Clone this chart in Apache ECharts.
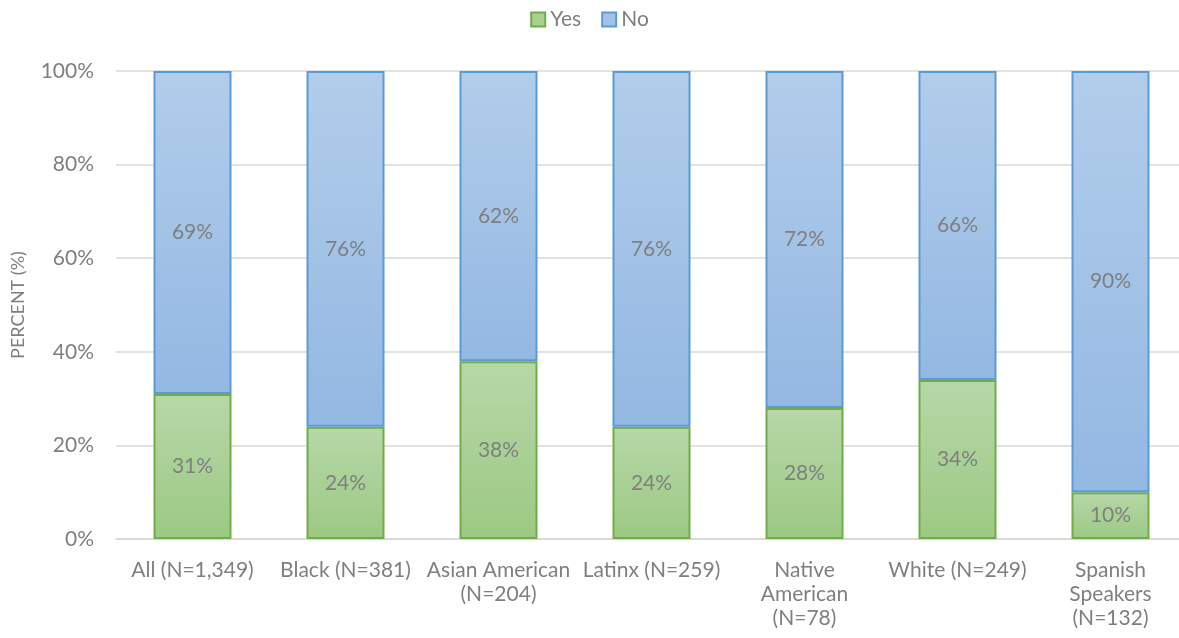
<!DOCTYPE html>
<html>
<head>
<meta charset="utf-8">
<script src="https://cdn.jsdelivr.net/npm/echarts@6/dist/echarts.min.js"></script>
<style>
html,body{margin:0;padding:0;background:#fff;}
#chart{width:1179px;height:638px;}
</style>
</head>
<body>
<div id="chart"></div>
<script>
const categories = [
  'All (N=1,349)',
  'Black (N=381)',
  'Asian American\n(N=204)',
  'Latinx (N=259)',
  'Native\nAmerican\n(N=78)',
  'White (N=249)',
  'Spanish\nSpeakers\n(N=132)'
];
const yesValues = [31, 24, 38, 24, 28, 34, 10];
const noValues = [69, 76, 62, 76, 72, 66, 90];
const yTicks = [0, 20, 40, 60, 80, 100];

const FONT = 'Lato';
const TEXT = '#7f7f7f';

function grad(top, bottom) {
  return new echarts.graphic.LinearGradient(0, 0, 0, 1, [
    { offset: 0, color: top },
    { offset: 1, color: bottom }
  ]);
}

const labelStyle = {
  show: true,
  position: 'inside',
  formatter: p => p.value + '%',
  color: TEXT,
  fontFamily: FONT,
  fontSize: 21
};

const chart = echarts.init(document.getElementById('chart'));
chart.setOption({
  animation: false,
  textStyle: { fontFamily: FONT },
  legend: {
    top: 4,
    left: 'center',
    itemWidth: 14,
    itemHeight: 14,
    itemGap: 20,
    textStyle: { color: TEXT, fontSize: 21, fontFamily: FONT },
    data: [
      { name: 'Yes', icon: 'rect', itemStyle: { color: '#a9d08e', borderColor: '#70ad47', borderWidth: 2 } },
      { name: 'No', icon: 'rect', itemStyle: { color: '#a4c2e8', borderColor: '#5b9bd5', borderWidth: 2 } }
    ]
  },
  grid: { left: 116, top: 71, width: 1071, height: 468, containLabel: false, outerBoundsMode: 'none' },
  xAxis: {
    type: 'category',
    data: categories,
    axisLine: { lineStyle: { color: '#d9d9d9', width: 1.5 } },
    axisTick: { show: false },
    axisLabel: {
      color: TEXT,
      fontFamily: FONT,
      fontSize: 21,
      lineHeight: 24,
      margin: 19,
      interval: 0
    }
  },
  yAxis: {
    type: 'value',
    min: 0,
    max: 100,
    interval: 20,
    name: 'PERCENT (%)',
    nameLocation: 'middle',
    nameGap: 89,
    nameRotate: 90,
    nameTextStyle: { color: TEXT, fontFamily: FONT, fontSize: 18 },
    axisLine: { show: false },
    axisTick: { show: false },
    splitLine: { lineStyle: { color: '#d9d9d9', width: 1.5 } },
    axisLabel: {
      color: TEXT,
      fontFamily: FONT,
      fontSize: 21,
      margin: 22,
      formatter: v => (yTicks.includes(v) ? v + '%' : '')
    }
  },
  series: [
    {
      name: 'Yes',
      type: 'bar',
      stack: 'total',
      barWidth: 78,
      data: yesValues,
      itemStyle: {
        color: grad('#b7d7a8', '#9cc983'),
        borderColor: '#70ad47',
        borderWidth: 2
      },
      label: labelStyle
    },
    {
      name: 'No',
      type: 'bar',
      stack: 'total',
      barWidth: 78,
      data: noValues,
      itemStyle: {
        color: grad('#b2cdeb', '#93b8e2'),
        borderColor: '#5b9bd5',
        borderWidth: 2
      },
      label: labelStyle
    }
  ]
});
</script>
</body>
</html>
